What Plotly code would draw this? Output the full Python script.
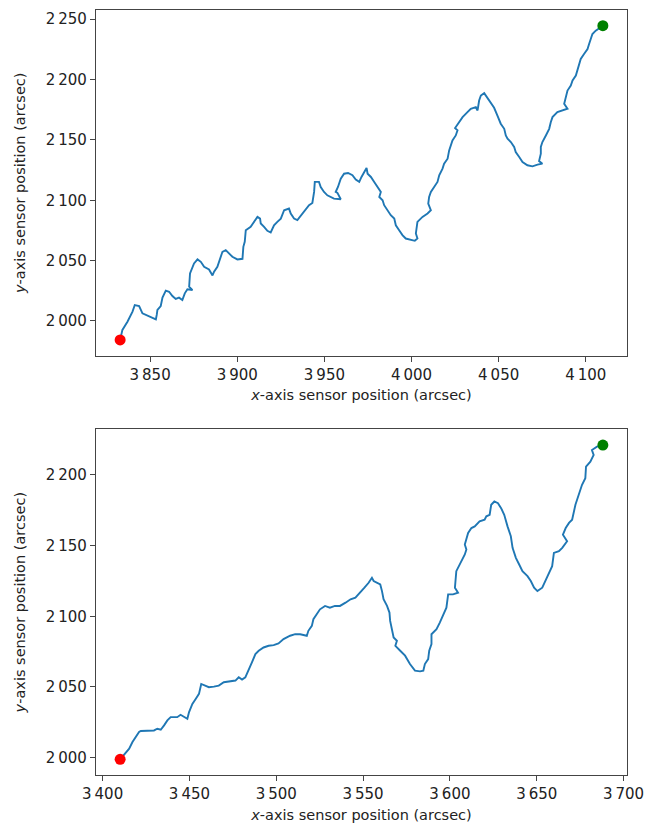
import plotly.graph_objects as go

# ---- Panel 1 (top) path, arcsec ----
x1 = [3832.8, 3834.1, 3837.0, 3838.9, 3839.9, 3841.2, 3843.7, 3845.6, 3849.4, 3853.3,
      3853.8, 3854.2, 3856.1, 3857.1, 3859.0, 3860.9, 3862.8, 3864.7, 3866.6, 3868.5,
      3869.9, 3871.4, 3874.3, 3872.4, 3872.9, 3875.2, 3877.2, 3879.1, 3881.0, 3883.8,
      3885.8, 3886.7, 3888.6, 3890.2, 3891.5, 3893.4, 3895.3, 3897.2, 3900.1, 3903.0,
      3903.5, 3904.3, 3904.9, 3907.7, 3908.7, 3911.6, 3913.1, 3913.5, 3915.4, 3917.3,
      3919.2, 3921.1, 3923.0, 3925.0, 3926.9, 3929.7, 3930.7, 3932.6, 3934.5, 3936.0,
      3937.4, 3939.3, 3941.2, 3943.1, 3944.1, 3944.5, 3946.9, 3947.9, 3949.8, 3951.7,
      3954.0, 3955.5, 3959.4, 3957.5, 3956.5, 3957.8, 3959.4, 3961.3, 3963.6, 3966.1,
      3968.0, 3970.0, 3971.3, 3972.8, 3974.2, 3974.8, 3976.7, 3978.6, 3980.5, 3982.4,
      3981.5, 3983.4, 3984.3, 3986.2, 3988.1, 3990.1, 3991.0, 3992.9, 3994.8, 3996.7,
      3999.6, 4001.9, 4003.4, 4002.5, 4003.4, 4006.3, 4009.2, 4011.1, 4009.6, 4010.1,
      4011.1, 4013.0, 4014.9, 4015.9, 4017.8, 4018.7, 4020.7, 4021.6, 4022.6, 4023.5,
      4025.4, 4026.4, 4025.0, 4027.3, 4029.3, 4032.1, 4034.0, 4036.9, 4037.9, 4038.8,
      4039.8, 4041.7, 4043.6, 4045.5, 4047.4, 4049.3, 4050.3, 4051.2, 4053.2, 4054.1,
      4055.1, 4057.0, 4058.9, 4059.8, 4061.8, 4063.7, 4066.5, 4069.4, 4072.3, 4075.1,
      4073.2, 4074.2, 4074.2, 4075.1, 4077.1, 4079.0, 4079.9, 4080.9, 4083.7, 4086.6,
      4089.5, 4087.6, 4088.5, 4089.5, 4091.4, 4092.4, 4094.3, 4095.2, 4096.2, 4097.1,
      4099.0, 4101.0, 4101.9, 4102.9, 4103.8, 4105.7, 4108.6, 4109.8]
y1 = [1984.3, 1992.6, 1999.4, 2005.0, 2007.7, 2013.2, 2012.4, 2006.3, 2004.1, 2001.4,
      2005.0, 2009.1, 2012.4, 2019.3, 2025.1, 2024.2, 2020.7, 2018.2, 2019.3, 2017.4,
      2022.9, 2026.2, 2025.6, 2028.4, 2039.4, 2047.7, 2051.0, 2049.0, 2044.9, 2042.7,
      2037.7, 2040.8, 2044.9, 2051.0, 2057.3, 2058.7, 2055.9, 2053.2, 2051.0, 2051.5,
      2061.4, 2065.6, 2075.2, 2078.0, 2080.2, 2086.2, 2084.8, 2080.7, 2078.0, 2074.7,
      2073.3, 2079.3, 2082.1, 2084.8, 2091.7, 2093.1, 2089.0, 2084.8, 2083.5, 2086.2,
      2089.0, 2092.3, 2095.9, 2097.8, 2106.9, 2115.2, 2115.2, 2111.0, 2106.9, 2104.1,
      2102.8, 2101.4, 2100.8, 2106.1, 2106.9, 2111.0, 2117.9, 2122.0, 2122.6, 2120.7,
      2117.1, 2115.2, 2119.3, 2123.4, 2126.7, 2122.0, 2119.3, 2115.2, 2111.0, 2106.9,
      2102.8, 2100.0, 2095.9, 2091.7, 2087.6, 2084.8, 2079.3, 2075.2, 2071.1, 2068.3,
      2066.9, 2066.4, 2068.3, 2072.5, 2082.1, 2086.2, 2089.0, 2091.7, 2097.2, 2102.8,
      2106.9, 2111.0, 2115.2, 2120.7, 2126.2, 2130.3, 2134.4, 2141.3, 2146.8, 2149.6,
      2153.7, 2157.9, 2159.8, 2164.7, 2168.9, 2173.0, 2175.8, 2177.1, 2174.4, 2182.6,
      2186.8, 2188.7, 2184.8, 2180.4, 2176.6, 2170.2, 2166.7, 2163.4, 2159.2, 2153.7,
      2151.0, 2148.2, 2144.1, 2140.0, 2135.8, 2131.7, 2129.0, 2128.1, 2129.5, 2130.3,
      2132.5, 2138.6, 2144.1, 2148.2, 2153.7, 2159.2, 2164.7, 2168.9, 2173.0, 2174.4,
      2175.8, 2179.9, 2185.4, 2190.9, 2195.0, 2199.2, 2203.3, 2207.4, 2212.9, 2217.1,
      2221.2, 2225.3, 2229.5, 2233.6, 2237.7, 2240.5, 2243.3, 2244.6]

# ---- Panel 2 (bottom) path, arcsec ----
x2 = [3410.1, 3412.4, 3415.3, 3417.2, 3419.1, 3421.0, 3422.0, 3425.8, 3429.6, 3431.5,
      3433.5, 3435.4, 3437.3, 3439.2, 3443.0, 3444.9, 3446.8, 3448.8, 3449.8, 3451.7,
      3453.6, 3455.5, 3456.8, 3459.3, 3461.2, 3464.1, 3466.9, 3469.8, 3472.7, 3476.5,
      3478.4, 3480.3, 3482.2, 3484.1, 3486.0, 3488.0, 3489.9, 3492.7, 3495.6, 3498.5,
      3501.3, 3504.2, 3508.0, 3510.9, 3513.8, 3517.6, 3518.5, 3520.5, 3521.4, 3523.3,
      3525.2, 3528.1, 3530.9, 3533.8, 3536.7, 3539.9, 3542.8, 3545.6, 3548.5, 3550.8,
      3553.2, 3555.1, 3556.1, 3558.0, 3559.9, 3560.9, 3561.8, 3563.8, 3565.2, 3565.6,
      3566.6, 3567.6, 3569.5, 3568.6, 3571.4, 3574.2, 3577.0, 3579.9, 3582.8, 3584.7,
      3585.6, 3587.5, 3588.1, 3589.4, 3589.4, 3592.3, 3594.2, 3596.1, 3598.0, 3599.0,
      3601.8, 3604.7, 3602.9, 3603.7, 3605.6, 3608.6, 3609.5, 3608.6, 3610.5, 3612.4,
      3614.3, 3617.1, 3620.0, 3621.0, 3622.9, 3623.8, 3625.6, 3627.7, 3629.5, 3631.3,
      3633.2, 3635.1, 3636.1, 3638.0, 3639.9, 3641.8, 3644.7, 3646.6, 3648.5, 3650.4,
      3653.2, 3655.1, 3657.0, 3658.9, 3659.9, 3662.8, 3664.7, 3667.5, 3665.1, 3666.7,
      3668.6, 3670.4, 3672.3, 3674.2, 3676.1, 3678.0, 3678.4, 3680.9, 3682.8, 3681.8,
      3684.7, 3688.1]
y2 = [1998.8, 2002.3, 2006.3, 2011.0, 2014.6, 2018.1, 2018.8, 2018.8, 2019.2, 2020.4,
      2019.7, 2022.8, 2026.3, 2028.6, 2028.6, 2030.3, 2029.1, 2027.5, 2032.2, 2038.0,
      2041.5, 2045.1, 2052.1, 2050.9, 2049.8, 2050.2, 2050.9, 2053.3, 2053.8, 2054.5,
      2056.8, 2055.2, 2056.8, 2062.7, 2067.4, 2073.2, 2075.6, 2077.9, 2079.1, 2079.6,
      2080.8, 2083.8, 2086.2, 2087.3, 2087.3, 2086.2, 2089.7, 2093.2, 2097.9, 2101.4,
      2104.9, 2107.3, 2106.1, 2107.3, 2107.3, 2109.6, 2112.0, 2113.1, 2116.7, 2120.2,
      2123.7, 2127.2, 2124.9, 2123.7, 2122.5, 2117.8, 2112.0, 2107.3, 2102.6, 2096.7,
      2089.7, 2085.0, 2082.6, 2079.1, 2075.6, 2072.1, 2066.2, 2061.5, 2061.0, 2061.5,
      2066.2, 2069.7, 2075.6, 2080.3, 2087.3, 2090.8, 2095.5, 2101.4, 2106.1, 2115.5,
      2115.5, 2116.7, 2120.2, 2131.9, 2136.6, 2143.7, 2147.2, 2150.7, 2158.9, 2162.4,
      2163.6, 2167.1, 2168.3, 2170.7, 2171.8, 2178.9, 2181.2, 2180.0, 2176.5, 2171.8,
      2163.6, 2156.6, 2148.4, 2141.3, 2136.6, 2131.9, 2128.4, 2124.9, 2120.2, 2117.8,
      2120.2, 2124.9, 2129.6, 2135.4, 2144.8, 2146.0, 2148.4, 2153.1, 2157.7, 2162.4,
      2166.0, 2168.3, 2178.9, 2185.9, 2193.0, 2197.7, 2205.9, 2209.4, 2214.1, 2217.6,
      2220.0, 2221.1]

x1_ticks = [3850, 3900, 3950, 4000, 4050, 4100]
y1_ticks = [2000, 2050, 2100, 2150, 2200, 2250]
x2_ticks = [3400, 3450, 3500, 3550, 3600, 3650, 3700]
y2_ticks = [2000, 2050, 2100, 2150, 2200]

LINE = "#1f77b4"
FONT = "DejaVu Sans"

fig = go.Figure()


def add_panel(xs, ys, xa, ya):
    fig.add_trace(go.Scatter(x=xs, y=ys, mode="lines", line=dict(color=LINE, width=1.9),
                             xaxis=xa, yaxis=ya, showlegend=False, hoverinfo="skip"))
    fig.add_trace(go.Scatter(x=[xs[0]], y=[ys[0]], mode="markers",
                             marker=dict(color="red", size=11), xaxis=xa, yaxis=ya,
                             showlegend=False))
    fig.add_trace(go.Scatter(x=[xs[-1]], y=[ys[-1]], mode="markers",
                             marker=dict(color="green", size=11), xaxis=xa, yaxis=ya,
                             showlegend=False))


add_panel(x1, y1, "x", "y")
add_panel(x2, y2, "x2", "y2")


def pad(vals):
    lo, hi = min(vals), max(vals)
    m = 0.05 * (hi - lo)
    return [lo - m, hi + m]


axis_common = dict(showline=True, mirror=True, linecolor="#444", linewidth=1.3,
                   ticks="outside", ticklen=5, tickwidth=1.2, tickcolor="#444",
                   showgrid=False, zeroline=False, separatethousands=True,
                   tickfont=dict(family=FONT, size=15, color="#222"))

xtitle = "<i>x</i>-axis sensor position (arcsec)"
ytitle = "<i>y</i>-axis sensor position (arcsec)"
tfont = dict(family=FONT, size=14.5, color="#222")

fig.update_layout(
    width=653, height=829,
    margin=dict(l=96, r=23, t=9, b=52),
    plot_bgcolor="white", paper_bgcolor="white",
    separators=".\u2009",
    font=dict(family=FONT, size=15, color="#222"),
    xaxis=dict(domain=[0, 1], anchor="y", range=pad(x1), tickvals=x1_ticks,
               title=dict(text=xtitle, font=tfont, standoff=7), **axis_common),
    yaxis=dict(domain=[0.5482, 1], anchor="x", range=pad(y1), tickvals=y1_ticks,
               title=dict(text=ytitle, font=tfont, standoff=16), **axis_common),
    xaxis2=dict(domain=[0, 1], anchor="y2", range=pad(x2), tickvals=x2_ticks,
                title=dict(text=xtitle, font=tfont, standoff=7), **axis_common),
    yaxis2=dict(domain=[0, 0.4518], anchor="x2", range=pad(y2), tickvals=y2_ticks,
                title=dict(text=ytitle, font=tfont, standoff=16), **axis_common),
)

fig.write_html("out.html")
